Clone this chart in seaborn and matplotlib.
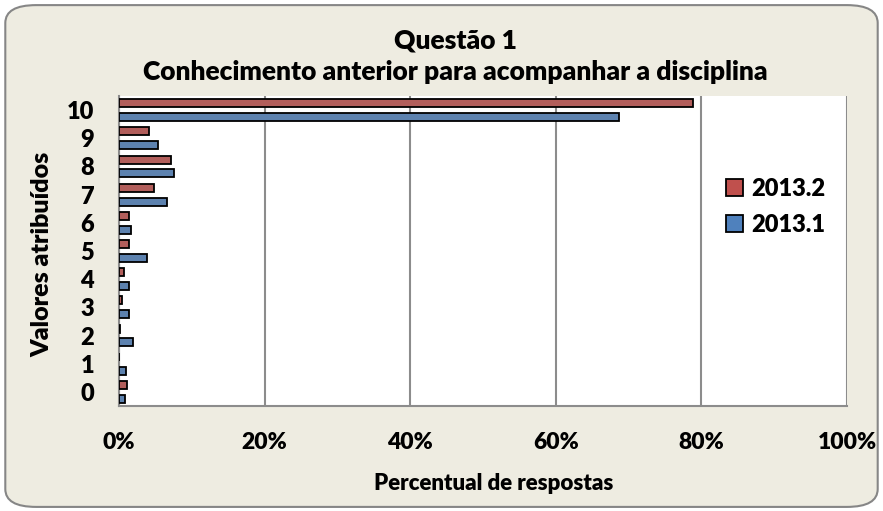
import numpy as np
import pandas as pd
import matplotlib
matplotlib.use('Agg')
import matplotlib.pyplot as plt
import seaborn as sns
from matplotlib.patches import FancyBboxPatch, Patch

# data (percent of answers)
categories = ['10', '9', '8', '7', '6', '5', '4', '3', '2', '1', '0']
series_names = ['2013.2', '2013.1']
values_2013_2 = [78.9, 4.1, 7.2, 4.8, 1.4, 1.4, 0.65, 0.45, 0.2, 0.0, 1.15]
values_2013_1 = [68.7, 5.4, 7.6, 6.6, 1.7, 3.8, 1.4, 1.4, 1.9, 0.96, 0.78]
x_ticks = [0, 20, 40, 60, 80, 100]
colors = ['#C0504D', '#4F81BD']

sns.set_style('white')
plt.rcParams['font.family'] = ['Lato', 'DejaVu Sans']
plt.rcParams['font.weight'] = 'heavy'
plt.rcParams['text.color'] = 'black'
plt.rcParams['axes.labelcolor'] = 'black'
plt.rcParams['xtick.labelcolor'] = 'black'
plt.rcParams['ytick.labelcolor'] = 'black'
W = 'heavy'

df = pd.DataFrame({
    'Valor': categories * 2,
    'Ano': [series_names[0]] * len(categories) + [series_names[1]] * len(categories),
    'Percentual': values_2013_2 + values_2013_1,
})

fig = plt.figure(figsize=(8.83, 5.11), dpi=100)
fig.patch.set_facecolor('white')

# rounded beige chart frame, behind everything
frame = FancyBboxPatch((0.006, 0.008), 0.988, 0.982,
                       boxstyle='round,pad=0,rounding_size=0.035',
                       transform=fig.transFigure, facecolor='#EEECE1',
                       edgecolor='#868686', linewidth=1.5, zorder=-5)
fig.patches.append(frame)

ax = fig.add_axes([119 / 883, 1 - 406 / 511, (847 - 119) / 883, (406 - 96) / 511])
ax.set_facecolor('white')

sns.barplot(data=df, y='Valor', x='Percentual', hue='Ano', order=categories,
            hue_order=series_names, palette=colors, orient='h',
            width=0.98, gap=0.42, edgecolor='black', linewidth=1.3,
            errorbar=None, ax=ax, zorder=3)

ax.set_xlim(0, 100)
ax.set_ylim(len(categories) - 0.5, -0.5)
ax.set_xticks(x_ticks)
ax.set_xticklabels([f'{t}%' for t in x_ticks], fontsize=16.5, fontweight=W)
ax.xaxis.grid(True, color='#8C8C8C', linewidth=1.5, zorder=0)
ax.yaxis.grid(False)
ax.set_axisbelow(True)
ax.tick_params(axis='x', length=7, width=1.5, color='#8C8C8C', pad=12)

# ticks on category boundaries, labels at the centres
ax.set_yticks(np.arange(-0.5, len(categories), 1))
ax.set_yticklabels([])
ax.set_yticks(range(len(categories)), minor=True)
ax.set_yticklabels(categories, minor=True, fontsize=17, fontweight=W)
ax.tick_params(axis='y', which='major', length=7, width=1.5, color='#8C8C8C')
ax.tick_params(axis='y', which='minor', length=0, pad=18)

for side in ['top', 'right']:
    ax.spines[side].set_visible(False)
for side in ['left', 'bottom']:
    ax.spines[side].set_color('#8C8C8C')
    ax.spines[side].set_linewidth(1.5)

ax.set_xlabel('Percentual de respostas', fontsize=16, fontweight=W)
ax.xaxis.set_label_coords(0.514, -0.215)
ax.set_ylabel('Valores atribuídos', fontsize=18, fontweight=W)
ax.yaxis.set_label_coords(-0.09, 0.49)

handles = [Patch(facecolor=c, edgecolor='black', linewidth=1.3) for c in colors]
ax.legend(handles, series_names, loc='center left', bbox_to_anchor=(0.805, 0.643),
          frameon=False, handlelength=0.7, handleheight=0.7, handletextpad=0.35,
          labelspacing=0.6, prop={'size': 17, 'weight': W})

fig.text(455 / 883, 1 - 40 / 511, 'Questão 1', ha='center', va='center',
         fontsize=19, fontweight=W)
fig.text(455 / 883, 1 - 72 / 511, 'Conhecimento anterior para acompanhar a disciplina',
         ha='center', va='center', fontsize=19, fontweight=W)

fig.savefig('out.png', dpi=100, facecolor=fig.get_facecolor())
